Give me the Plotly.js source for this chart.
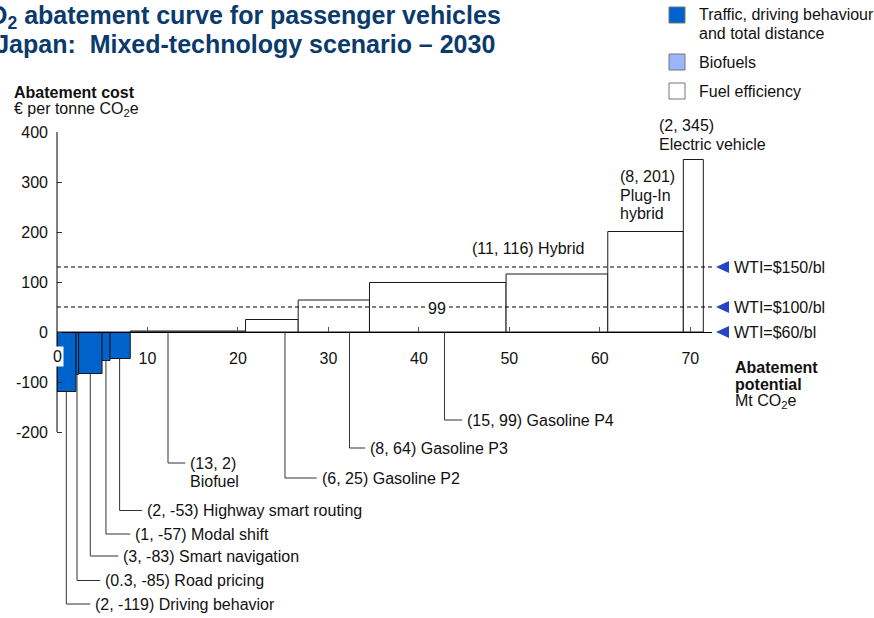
<!DOCTYPE html>
<html><head><meta charset="utf-8">
<script src="https://cdn.plot.ly/plotly-3.0.1.min.js"></script>
<style>html,body{margin:0;padding:0;background:#fff;}#chart{width:874px;height:618px;}</style>
</head><body><div id="chart"></div>
<script>
// ---------------- DATA ----------------
const categories = ['Driving behavior','Road pricing','Smart navigation','Modal shift','Highway smart routing','Biofuel','Gasoline P2','Gasoline P3','Gasoline P4','Hybrid','Plug-In hybrid','Electric vehicle'];
const groups = ['traffic','traffic','traffic','traffic','traffic','biofuel','efficiency','efficiency','efficiency','efficiency','efficiency','efficiency'];
const potential = [2.10, 0.29, 2.59, 0.88, 2.24, 12.74, 5.82, 7.88, 15.1, 11.24, 8.35, 2.21]; // Mt CO2e
const cost = [-119, -85, -83, -57, -53, 2, 25, 64, 99, 116, 201, 345]; // EUR per tonne CO2e
const groupKeys = ['traffic','biofuel','efficiency'];
const groupNames = ['Traffic, driving behaviour and total distance','Biofuels','Fuel efficiency'];
const xTicks = [0,10,20,30,40,50,60,70];
const yTicks = [-200,-100,0,100,200,300,400];
const wtiLabels = ['WTI=$150/bl','WTI=$100/bl','WTI=$60/bl'];
const wtiCost = [130, 50, 0];

// ---------------- STYLE / LAYOUT CONFIG ----------------
const FONT = 'Liberation Sans, Arial, Helvetica, sans-serif';
const TXT = '#111111';
const NAVY = '#0B3A6D';
const colors = {traffic:'#0063CC', biofuel:'#9BB5FF', efficiency:'#FFFFFF'};
const L = 57, T = 132, W = 655, H = 478;
const xRange = [0, 72.4], yRange = [-556, 400];
const px = v => (v - L) / W;          // pixel -> paper x
const py = v => (T + H - v) / H;      // pixel -> paper y
const LINE_H = 18.5;
// label placement (positions only)
const labelCfg = [
  {type:'leader', lx:1.03,  ly:-544, ex:3.68},
  {type:'leader', lx:2.21,  ly:-497, ex:4.78},
  {type:'leader', lx:3.68,  ly:-448, ex:6.77},
  {type:'leader', lx:5.41,  ly:-404, ex:8.10},
  {type:'leader', lx:6.92,  ly:-357, ex:9.39},
  {type:'leader', lx:12.27, ly:-262, ex:14.18, stack:true},
  {type:'leader', lx:25.2,  ly:-292, ex:28.7},
  {type:'leader', lx:32.33, ly:-232, ex:34.07},
  {type:'leader', lx:42.83, ly:-176, ex:44.78},
  {type:'top', tx:45.62, typx:248},
  {type:'top', tx:62.06, typx:176.7, stack:true, breakName:true},
  {type:'top', tx:66.3,  typx:125.7, stack:true}
];

// ---------------- BUILD ----------------
const left = [];
potential.reduce((acc, w, i) => { left[i] = acc; return acc + w; }, 0);
const fmt = w => w < 0.5 ? w.toFixed(1) : String(Math.round(w));

const traces = groupKeys.map((g, gi) => {
  const idx = categories.map((_, i) => i).filter(i => groups[i] === g);
  return {
    type:'bar', name: groupNames[gi],
    x: idx.map(i => left[i] + potential[i] / 2),
    width: idx.map(i => potential[i]),
    y: idx.map(i => cost[i]),
    base: idx.map(() => 0),
    text: idx.map(i => categories[i]),
    textposition:'none',
    marker:{color: colors[g], line:{color:'#1a1a1a', width:1}},
    showlegend:false, hoverinfo:'text'
  };
});

const shapes = [];
const annotations = [];
const ann = (o) => annotations.push(Object.assign({showarrow:false, xanchor:'left', yanchor:'middle',
  font:{family:FONT, size:16, color:TXT}}, o));

// y axis line (from -200 to 400)
shapes.push({type:'line', xref:'paper', yref:'y', x0:0, x1:0, y0:yTicks[0], y1:yTicks[yTicks.length-1],
  line:{color:'#000', width:1}});
// WTI dashed lines, markers and labels
wtiCost.forEach((c, i) => {
  if (c !== 0) shapes.push({type:'line', xref:'x', yref:'y', x0:xRange[0], x1:xRange[1], y0:c, y1:c,
    line:{color:'#000', width:1, dash:'4px,3px'}});
  shapes.push({type:'path', xref:'paper', yref:'y',
    path:'M' + px(729) + ',' + (c + 12) + ' L' + px(716) + ',' + c + ' L' + px(729) + ',' + (c - 12) + ' Z',
    fillcolor:'#2645C4', line:{width:0}});
  ann({xref:'paper', yref:'y', x:px(732), y:c, text:wtiLabels[i]});
});

// category labels
categories.forEach((name, i) => {
  const cfg = labelCfg[i];
  const coord = '(' + fmt(potential[i]) + ', ' + cost[i] + ')';
  let lines;
  if (cfg.stack) lines = [coord].concat(cfg.breakName ? name.split(' ') : [name]);
  else lines = [coord + ' ' + name];
  if (cfg.type === 'leader') {
    const y0 = Math.min(0, cost[i]);
    shapes.push({type:'path', xref:'x', yref:'y',
      path:'M' + cfg.lx + ',' + y0 + ' L' + cfg.lx + ',' + cfg.ly + ' L' + cfg.ex + ',' + cfg.ly,
      line:{color:'#333', width:1}});
    lines.forEach((t, k) => ann({xref:'x', yref:'y', x:cfg.ex, y:cfg.ly, xshift:3, yshift:-k * LINE_H, text:t}));
  } else {
    lines.forEach((t, k) => ann({xref:'x', yref:'paper', x:cfg.tx, y:py(cfg.typx + k * LINE_H), text:t}));
  }
});
// stray "99" label on $100 line
ann({xref:'x', yref:'y', x:41.98, y:48, xanchor:'center', text:String(cost[8]), bgcolor:'#fff', borderpad:0});
// "0" x tick label with white box
ann({xref:'x', yref:'y', x:0, y:-48, xanchor:'center', text:String(xTicks[0]), bgcolor:'#fff', borderpad:1});

// axis titles
ann({xref:'paper', yref:'paper', x:px(12), y:py(92), text:'<b>Abatement cost</b>'});
ann({xref:'paper', yref:'paper', x:px(12), y:py(109), text:'€ per tonne CO<sub>2</sub>e'});
ann({xref:'paper', yref:'paper', x:px(733), y:py(367), text:'<b>Abatement</b>'});
ann({xref:'paper', yref:'paper', x:px(733), y:py(384), text:'<b>potential</b>'});
ann({xref:'paper', yref:'paper', x:px(733), y:py(401), text:'Mt CO<sub>2</sub>e'});

// title (left part cropped off the canvas as in the reference)
ann({xref:'paper', yref:'paper', x:px(-32), y:py(17), text:'<b>CO<sub>2</sub> abatement curve for passenger vehicles</b>',
  font:{family:FONT, size:25, color:NAVY}});
ann({xref:'paper', yref:'paper', x:px(-36), y:py(44), text:'<b>in Japan:&nbsp; Mixed-technology scenario – 2030</b>',
  font:{family:FONT, size:25, color:NAVY}});

// legend (manual)
const legY = [[15, 33], [62], [91]];
groupKeys.forEach((g, gi) => {
  const c = legY[gi][0];
  shapes.push({type:'rect', xref:'paper', yref:'paper', x0:px(669), x1:px(685), y0:py(c + 8), y1:py(c - 8),
    fillcolor: colors[g], line:{color:'#777', width:1}});
  const parts = gi === 0 ? ['Traffic, driving behaviour', 'and total distance'] : [groupNames[gi]];
  parts.forEach((t, k) => ann({xref:'paper', yref:'paper', x:px(697), y:py(legY[gi][k]), text:t}));
});

const layout = {
  width:874, height:618,
  margin:{l:L, r:874 - L - W, t:T, b:618 - T - H, pad:0},
  paper_bgcolor:'#fff', plot_bgcolor:'#fff',
  barmode:'overlay', showlegend:false,
  font:{family:FONT, size:16, color:TXT},
  xaxis:{range:xRange, anchor:'free', position:(0 - yRange[0]) / (yRange[1] - yRange[0]),
    showline:true, linecolor:'#000', linewidth:1, ticks:'inside', ticklen:5, tickcolor:'#555',
    tickvals:xTicks, ticktext:xTicks.map(v => v === 0 ? '' : String(v)),
    showgrid:false, zeroline:false, tickfont:{family:FONT, size:16, color:TXT}, ticklabelstandoff:12, fixedrange:true},
  yaxis:{range:yRange, showline:false, ticks:'inside', ticklen:5, tickcolor:'#333',
    tickvals:yTicks, ticktext:yTicks.map(String), showgrid:false, zeroline:false,
    tickfont:{family:FONT, size:16, color:TXT}, ticklabelstandoff:8, fixedrange:true},
  shapes:shapes, annotations:annotations
};
Plotly.newPlot('chart', traces, layout, {displayModeBar:false, staticPlot:true});
</script>
</body></html>
